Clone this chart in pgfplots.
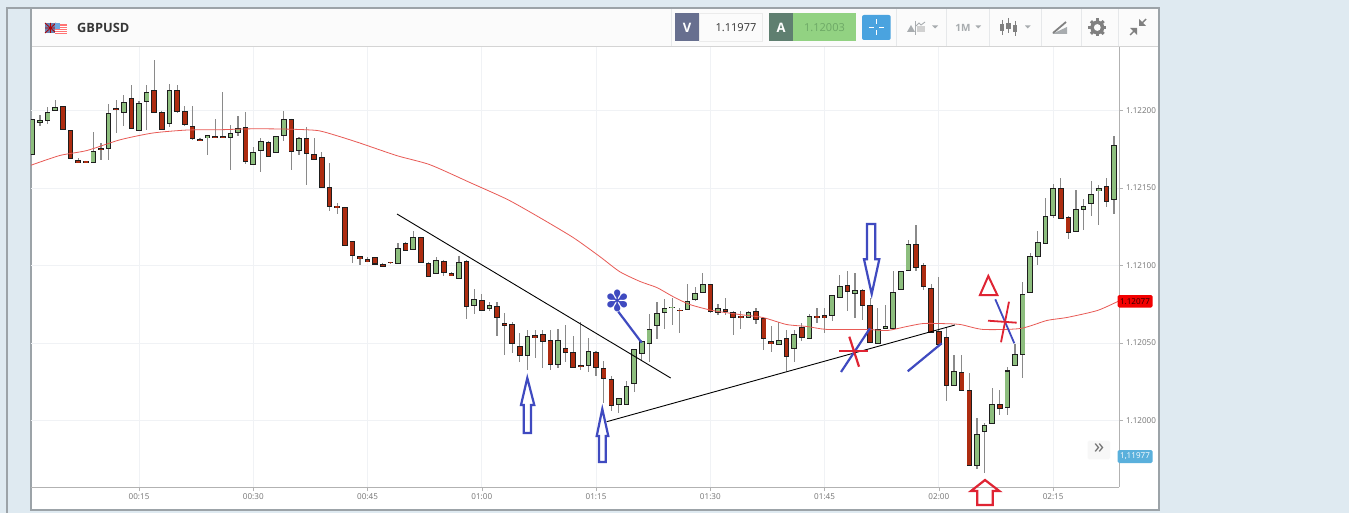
\documentclass[border=0pt]{standalone}
\usepackage{fontspec}
\setmainfont{Open Sans}
\newfontfamily\symfont{DejaVu Sans}
\usepackage{pgfplots}
\usepackage{pgfplotstable}
\pgfplotsset{compat=1.18}
\definecolor{pagebg}{HTML}{DFEAF1}
\definecolor{frame}{HTML}{9CA3A8}
\definecolor{up}{HTML}{8DBE7E}
\definecolor{down}{HTML}{AD2C10}
\definecolor{wick}{HTML}{8A8A8A}
\definecolor{body}{HTML}{1E1E1E}
\definecolor{gridc}{HTML}{F0F2F5}
\definecolor{ma}{HTML}{E85A55}
\definecolor{pen}{HTML}{3F4AC0}
\definecolor{redpen}{HTML}{DF2433}
\definecolor{icon}{HTML}{A8ACAF}
\definecolor{sep}{HTML}{E6E8EA}
\definecolor{tagblue}{HTML}{5AB0DC}
\definecolor{flagblue}{HTML}{6A7FB0}
\definecolor{flagsky}{HTML}{6EA8E0}
\definecolor{vbox}{HTML}{676F8F}
\definecolor{abox}{HTML}{5F7F70}
\definecolor{askbg}{HTML}{92D282}
\definecolor{asktext}{HTML}{6DA866}
\definecolor{btnblue}{HTML}{4AA3DF}
\pgfplotstableread{
t o h l c
1 1.121717 1.121941 1.121717 1.121941
2 1.121936 1.121973 1.121902 1.121949
3 1.121951 1.122022 1.121915 1.122005
4 1.122010 1.122065 1.122005 1.122031
5 1.122029 1.122029 1.121881 1.121881
6 1.121874 1.121874 1.121691 1.121691
7 1.121691 1.121691 1.121668 1.121681
8 1.121676 1.121676 1.121672 1.121672
9 1.121681 1.121859 1.121681 1.121752
10 1.121762 1.121790 1.121681 1.121754
11 1.121773 1.122042 1.121681 1.121999
12 1.122022 1.122070 1.121853 1.122010
13 1.121999 1.122098 1.121902 1.122061
14 1.122089 1.122162 1.121891 1.121891
15 1.121889 1.122061 1.121881 1.122061
16 1.122061 1.122162 1.121872 1.122119
17 1.122132 1.122328 1.121992 1.121992
18 1.121999 1.121999 1.121891 1.121891
19 1.121919 1.122173 1.121891 1.122132
20 1.122132 1.122164 1.121984 1.121999
21 1.122003 1.122031 1.121902 1.121919
22 1.121906 1.122031 1.121810 1.121831
23 1.121825 1.121825 1.121801 1.121820
24 1.121823 1.121835 1.121711 1.121835
25 1.121835 1.121947 1.121833 1.121833
26 1.121844 1.122119 1.121823 1.121835
27 1.121840 1.121906 1.121614 1.121868
28 1.121870 1.121964 1.121833 1.121896
29 1.121891 1.121992 1.121655 1.121670
30 1.121659 1.121765 1.121655 1.121739
31 1.121743 1.121820 1.121601 1.121805
32 1.121805 1.121805 1.121713 1.121713
33 1.121730 1.121835 1.121724 1.121835
34 1.121840 1.121999 1.121801 1.121947
35 1.121947 1.121947 1.121614 1.121743
36 1.121752 1.121829 1.121711 1.121829
37 1.121829 1.121896 1.121522 1.121730
38 1.121726 1.121820 1.121691 1.121698
39 1.121698 1.121732 1.121502 1.121502
40 1.121507 1.121659 1.121350 1.121384
41 1.121391 1.121403 1.121333 1.121384
42 1.121378 1.121378 1.121133 1.121133
43 1.121156 1.121156 1.121014 1.121070
44 1.121060 1.121060 1.121002 1.121047
45 1.121053 1.121053 1.121042 1.121042
46 1.121053 1.121053 1.121002 1.121012
47 1.121019 1.121019 1.121002 1.121006
48 1.121025 1.121025 1.121010 1.121023
49 1.121023 1.121148 1.121023 1.121116
50 1.121152 1.121152 1.121109 1.121109
51 1.121109 1.121223 1.121109 1.121186
52 1.121186 1.121186 1.121030 1.121030
53 1.121025 1.121025 1.120946 1.120946
54 1.120950 1.121055 1.120950 1.121036
55 1.121036 1.121036 1.120933 1.120961
56 1.120957 1.120957 1.120946 1.120946
57 1.120933 1.121064 1.120933 1.121036
58 1.121036 1.121036 1.120654 1.120744
59 1.120744 1.120847 1.120684 1.120787
60 1.120787 1.120817 1.120712 1.120720
61 1.120720 1.120765 1.120705 1.120740
62 1.120740 1.120765 1.120544 1.120664
63 1.120638 1.120694 1.120424 1.120623
64 1.120628 1.120638 1.120434 1.120505
65 1.120488 1.120565 1.120376 1.120430
66 1.120430 1.120583 1.120325 1.120557
67 1.120557 1.120583 1.120402 1.120546
68 1.120557 1.120583 1.120340 1.120510
69 1.120527 1.120583 1.120325 1.120374
70 1.120374 1.120587 1.120340 1.120529
71 1.120477 1.120617 1.120376 1.120454
72 1.120449 1.120546 1.120340 1.120353
73 1.120359 1.120632 1.120325 1.120357
74 1.120372 1.120531 1.120310 1.120460
75 1.120449 1.120449 1.120286 1.120351
76 1.120346 1.120383 1.120110 1.120282
77 1.120267 1.120286 1.120058 1.120099
78 1.120099 1.120136 1.120045 1.120136
79 1.120110 1.120254 1.120110 1.120228
80 1.120243 1.120462 1.120183 1.120462
81 1.120443 1.120516 1.120383 1.120516
82 1.120505 1.120684 1.120376 1.120598
83 1.120623 1.120763 1.120527 1.120701
84 1.120705 1.120785 1.120591 1.120727
85 1.120727 1.120791 1.120613 1.120729
86 1.120722 1.120728 1.120565 1.120720
87 1.120720 1.120879 1.120711 1.120769
88 1.120782 1.120861 1.120773 1.120825
89 1.120827 1.120952 1.120827 1.120881
90 1.120881 1.120881 1.120694 1.120711
91 1.120711 1.120752 1.120683 1.120739
92 1.120726 1.120791 1.120683 1.120717
93 1.120705 1.120705 1.120550 1.120672
94 1.120668 1.120705 1.120591 1.120666
95 1.120672 1.120705 1.120672 1.120705
96 1.120715 1.120726 1.120623 1.120664
97 1.120662 1.120662 1.120455 1.120533
98 1.120518 1.120612 1.120440 1.120505
99 1.120492 1.120634 1.120492 1.120518
100 1.120528 1.120582 1.120316 1.120414
101 1.120481 1.120586 1.120376 1.120569
102 1.120614 1.120629 1.120511 1.120550
103 1.120550 1.120687 1.120550 1.120687
104 1.120672 1.120724 1.120629 1.120670
105 1.120687 1.120728 1.120565 1.120672
106 1.120679 1.120810 1.120644 1.120810
107 1.120812 1.120941 1.120812 1.120881
108 1.120881 1.120965 1.120705 1.120842
109 1.120827 1.120952 1.120662 1.120849
110 1.120846 1.120846 1.120651 1.120752
111 1.120745 1.120791 1.120505 1.120505
112 1.120509 1.120726 1.120509 1.120597
113 1.120599 1.120743 1.120599 1.120614
114 1.120604 1.120962 1.120604 1.120836
115 1.120842 1.120958 1.120842 1.120958
116 1.120971 1.121162 1.120971 1.121139
117 1.121152 1.121263 1.120962 1.121001
118 1.120997 1.121016 1.120844 1.120861
119 1.120866 1.120883 1.120586 1.120586
120 1.120586 1.120926 1.120502 1.120502
121 1.120539 1.120597 1.120124 1.120232
122 1.120232 1.120423 1.120232 1.120318
123 1.120318 1.120420 1.120202 1.120202
124 1.120197 1.120307 1.119703 1.119711
125 1.119722 1.120017 1.119683 1.119920
126 1.119933 1.119984 1.119662 1.119972
127 1.119980 1.120208 1.119980 1.120105
128 1.120107 1.120195 1.120032 1.120081
129 1.120081 1.120343 1.120032 1.120318
130 1.120371 1.120496 1.120354 1.120436
131 1.120442 1.120896 1.120272 1.120827
132 1.120829 1.121080 1.120829 1.121059
133 1.121061 1.121224 1.121001 1.121151
134 1.121149 1.121433 1.121149 1.121325
135 1.121332 1.121527 1.121304 1.121506
136 1.121506 1.121564 1.121317 1.121317
137 1.121319 1.121319 1.121173 1.121222
138 1.121220 1.121489 1.121220 1.121366
139 1.121368 1.121429 1.121227 1.121390
140 1.121411 1.121547 1.121317 1.121467
141 1.121491 1.121517 1.121261 1.121506
142 1.121519 1.121566 1.121379 1.121422
143 1.121429 1.121833 1.121332 1.121777
}\candles
\pgfplotstableread{
t v
0.82 1.121647
4.62 1.121710
8.17 1.121742
12.5 1.121811
16.83 1.121855
21.3 1.121874
25.6 1.121876
29.96 1.121882
34.4 1.121880
38.4 1.121871
41.0 1.121837
44.0 1.121790
48.9 1.121708
53.2 1.121650
58.5 1.121534
63.4 1.121425
67.6 1.121309
72.0 1.121180
75.5 1.121057
78.1 1.120960
80.8 1.120896
83.0 1.120857
85.1 1.120799
87.3 1.120748
90.3 1.120709
93.9 1.120683
96.9 1.120664
100.0 1.120619
102.7 1.120606
105.3 1.120587
110.5 1.120587
113.2 1.120580
115.8 1.120606
117.9 1.120625
120.2 1.120625
122.8 1.120619
125.8 1.120587
130.7 1.120593
134.2 1.120645
136.8 1.120664
140.8 1.120709
143.6 1.120770
}\mavg
\newcommand{\wickplot}{%
  \addplot[draw=none, mark=none, forget plot,
    error bars/.cd, y dir=both, y explicit, error mark=none,
    error bar style={draw=wick, line width=1.15pt}]
    table[x=t, y=o, y error plus expr=\thisrow{h}-\thisrow{o},
          y error minus expr=\thisrow{o}-\thisrow{l}] {\candles};}
\newcommand{\bodyplot}[4]{% range of c-o; colour; width; extra half height
  \addplot[draw=none, mark=none, forget plot,
    restrict expr to domain={\thisrow{c}-\thisrow{o}}{#1},
    error bars/.cd, y dir=both, y explicit, error mark=none,
    error bar style={draw=#2, line width=#3}]
    table[x=t, y expr=(\thisrow{o}+\thisrow{c})/2,
          y error expr=abs(\thisrow{c}-\thisrow{o})/2+#4] {\candles};}
\begin{document}
\begin{tikzpicture}
\path[use as bounding box] (0pt,0pt) rectangle (1349pt,-513pt);
\begin{scope}[x=1pt,y=-1pt]
  \fill[pagebg] (0,0) rectangle (1349,513);
  \draw[frame,line width=2pt] (7,513) -- (7,8.5) -- (1159,8.5) -- (1159,509.5) -- (30.5,509.5) -- (30.5,8.5);
  \fill[white] (31.5,9.5) rectangle (1158,508.5);
  \fill[black!1.5] (31.5,9.5) rectangle (1158,46);
  \draw[black!17,line width=0.8pt] (31.5,46.3) -- (1158,46.3);
\end{scope}
\begin{axis}[
  at={(31pt,-487pt)}, anchor=south west, scale only axis,
  width=1088pt, height=440pt,
  xmin=0.816, xmax=143.65, ymin=1.11957, ymax=1.12241,
  axis x line*=bottom, axis y line*=right,
  axis line style={draw=black!30, line width=0.8pt},
  tick align=outside, major tick length=4pt,
  tick style={draw=black!30, line width=0.6pt},
  grid=major, major grid style={draw=gridc, line width=0.8pt},
  xtick={15,30,45,60,75,90,105,120,135},
  xticklabels={00:15,00:30,00:45,01:00,01:15,01:30,01:45,02:00,02:15},
  ytick={1.12,1.1205,1.121,1.1215,1.122},
  yticklabels={1.12000,1.12050,1.12100,1.12150,1.12200},
  tick label style={font=\fontsize{8.1}{10}\selectfont, text=black!55},
  yticklabel style={xshift=-0.5pt},
  xticklabel style={yshift=1pt},
  clip=true,
]
\wickplot
\bodyplot{0:1}{body}{5.6pt}{0.0000035}
\bodyplot{-1:-0.00000001}{body}{5.6pt}{0.0000035}
\bodyplot{0:1}{up}{3.8pt}{-0.0000030}
\bodyplot{-1:-0.00000001}{down}{3.8pt}{-0.0000030}
\addplot[ma, line width=0.8pt, mark=none, forget plot, smooth, tension=0.4] table[x=t,y=v] {\mavg};
\end{axis}
\begin{scope}[x=1pt,y=-1pt]
  % trend lines
  \draw[black,line width=0.9pt] (397,214) -- (670.7,378);
  \draw[black,line width=0.9pt] (606.7,421.7) -- (955,325);
  % blue arrows
  \draw[pen,line width=2.2pt,miter limit=8] (527.3,378) -- (534.3,405) -- (531,405) -- (531,433) -- (523.7,433) -- (523.7,405) -- (521,405) -- cycle;
  \draw[pen,line width=2.2pt,miter limit=8] (602.3,409) -- (608.3,436) -- (605.7,436) -- (605.7,462) -- (599,462) -- (599,436) -- (596.7,436) -- cycle;
  \draw[pen,line width=2.2pt,miter limit=8] (867,224) -- (875.3,224) -- (875.3,259.3) -- (879.3,259.3) -- (871.7,294) -- (864,259.3) -- (867,259.3) -- cycle;
  % blue strokes
  \draw[pen,line width=2.2pt] (618.3,311.7) -- (641.7,342.7);
  \draw[pen,line width=2.2pt] (841,372) -- (870,328.3);
  \draw[pen,line width=2.2pt] (907.7,371.3) -- (941.7,343.3);
  \draw[pen,line width=1.8pt] (995.3,299.3) -- (1014.3,343.3);
  \node[pen,inner sep=0pt,font={\symfont\fontsize{29}{29}\selectfont}] at (618,301) {✽};
  % red marks
  \draw[redpen,line width=2.2pt] (839.3,351) -- (868,351);
  \draw[redpen,line width=2.2pt] (849.3,336.7) -- (859,366.7);
  \draw[redpen,line width=1.8pt] (1009,301.7) -- (1001,342.3);
  \draw[redpen,line width=1.8pt] (988,320.7) -- (1016.7,322.7);
  \draw[redpen,line width=2pt] (988.3,276) -- (997.3,295) -- (980,295) -- cycle;
  \draw[redpen,line width=2.2pt,miter limit=8] (985,480) -- (999.3,491) -- (992.7,491) -- (992.7,505) -- (977.3,505) -- (977.3,491) -- (971,491) -- cycle;
  % price tags
  \fill[red!95!black,rounded corners=1.5pt] (1117.5,295) rectangle (1152.7,307.5);
  \node[inner sep=0pt,text=black!85!red,font=\fontsize{8.1}{10}\selectfont] at (1135,301.3) {1.12077};
  \fill[tagblue,rounded corners=1.5pt] (1117.5,450) rectangle (1152.7,463);
  \node[inner sep=0pt,text=white,font=\fontsize{8.1}{10}\selectfont] at (1135,456.5) {1,11977};
  \fill[black!3,rounded corners=1.5pt] (1087.7,440.7) rectangle (1110,459.3);
  \node[inner sep=0pt,text=black!55,font=\fontsize{21}{21}\selectfont] at (1099,448.3) {»};
  % header: instrument
  \fill[flagblue] (45,23) rectangle (56,33);
  \draw[red!70!black,line width=0.8pt] (45,23) -- (56,33) (45,33) -- (56,23) (50.5,23) -- (50.5,33) (45,28) -- (56,28);
  \fill[red!55!white] (55,24.5) rectangle (66.5,34);
  \foreach \yy in {26,28,30,32} \fill[white] (55,\yy) rectangle (66.5,\yy+0.9);
  \fill[flagsky] (55,23.5) rectangle (60,29.5);
  \node[anchor=west,inner sep=0pt,text=black!78,font=\bfseries\fontsize{12.8}{14}\selectfont] at (77,27.5) {GBPUSD};
  % header: quotes
  \fill[vbox] (675,13.3) rectangle (699.3,41);
  \node[inner sep=0pt,text=white,font=\bfseries\fontsize{13}{14}\selectfont] at (687,27.5) {V};
  \draw[black!8,line width=0.6pt] (699.3,13.3) rectangle (762,41);
  \node[inner sep=0pt,text=black!80,font=\fontsize{11}{12}\selectfont] at (736,27.5) {1.11977};
  \fill[abox] (768.7,13.3) rectangle (793.3,41);
  \node[inner sep=0pt,text=white,font=\bfseries\fontsize{13}{14}\selectfont] at (781,27.5) {A};
  \fill[askbg] (793.3,13.3) rectangle (856,41);
  \node[inner sep=0pt,text=asktext,font=\fontsize{11}{12}\selectfont] at (824.5,27.5) {1.12003};
  \fill[btnblue,rounded corners=2pt] (862,15) rectangle (890.7,40);
  \draw[white,line width=1pt] (869,27.5) -- (874,27.5) (879,27.5) -- (884,27.5) (876.5,19.5) -- (876.5,24.5) (876.5,30.5) -- (876.5,35.5);
  % header: separators
  \foreach \xx in {671,896,946.7,989,1041,1081,1118} \draw[sep,line width=0.8pt] (\xx,9.5) -- (\xx,46);
  % header: icons
  \fill[icon] (907,32) -- (911,25) -- (915,32) -- cycle;
  \fill[black!18] (917,32) rectangle (925,26);
  \draw[icon,line width=0.9pt] (916,26) -- (919,23) -- (921,25) -- (925,22);
  \draw[icon,line width=0.6pt] (915.5,21) -- (915.5,35);
  \fill[icon] (932,25.5) -- (938,25.5) -- (935,28.5) -- cycle;
  \node[inner sep=0pt,text=icon,font=\bfseries\fontsize{10}{12}\selectfont] at (963,27.8) {1M};
  \fill[icon] (975.5,25.5) -- (981,25.5) -- (978.2,28.5) -- cycle;
  \foreach \xx/\ya/\yb/\yc/\yd in {1002/20/24/31/35,1008.5/18/23/29/33,1015/21/25/32/36}{
    \draw[black!50,line width=0.8pt] (\xx,\ya) -- (\xx,\yd);
    \fill[black!50] (\xx-2.2,\yb) rectangle (\xx+2.2,\yc);}
  \fill[icon] (1025,25.5) -- (1030.5,25.5) -- (1027.7,28.5) -- cycle;
  \fill[icon] (1052,34) -- (1067,34) -- (1067,27) -- cycle;
  \draw[black!50,line width=1.8pt] (1053,33) -- (1066,22);
  % gear
  \foreach \a in {0,45,...,315} \draw[black!50,line width=3pt] (1097.3,27.5) -- ++(\a:9);
  \fill[black!50] (1097.3,27.5) circle (7pt);
  \fill[black!1.5] (1097.3,27.5) circle (3.4pt);
  \draw[black!50,line width=1.4pt] (1130,35) -- (1136,29) (1140,25) -- (1146,19);
  \fill[black!50] (1130,28) -- (1137,28) -- (1137,35) -- cycle;
  \fill[black!50] (1139,19) -- (1146,26) -- (1139,26) -- cycle;
\end{scope}
\end{tikzpicture}
\end{document}
